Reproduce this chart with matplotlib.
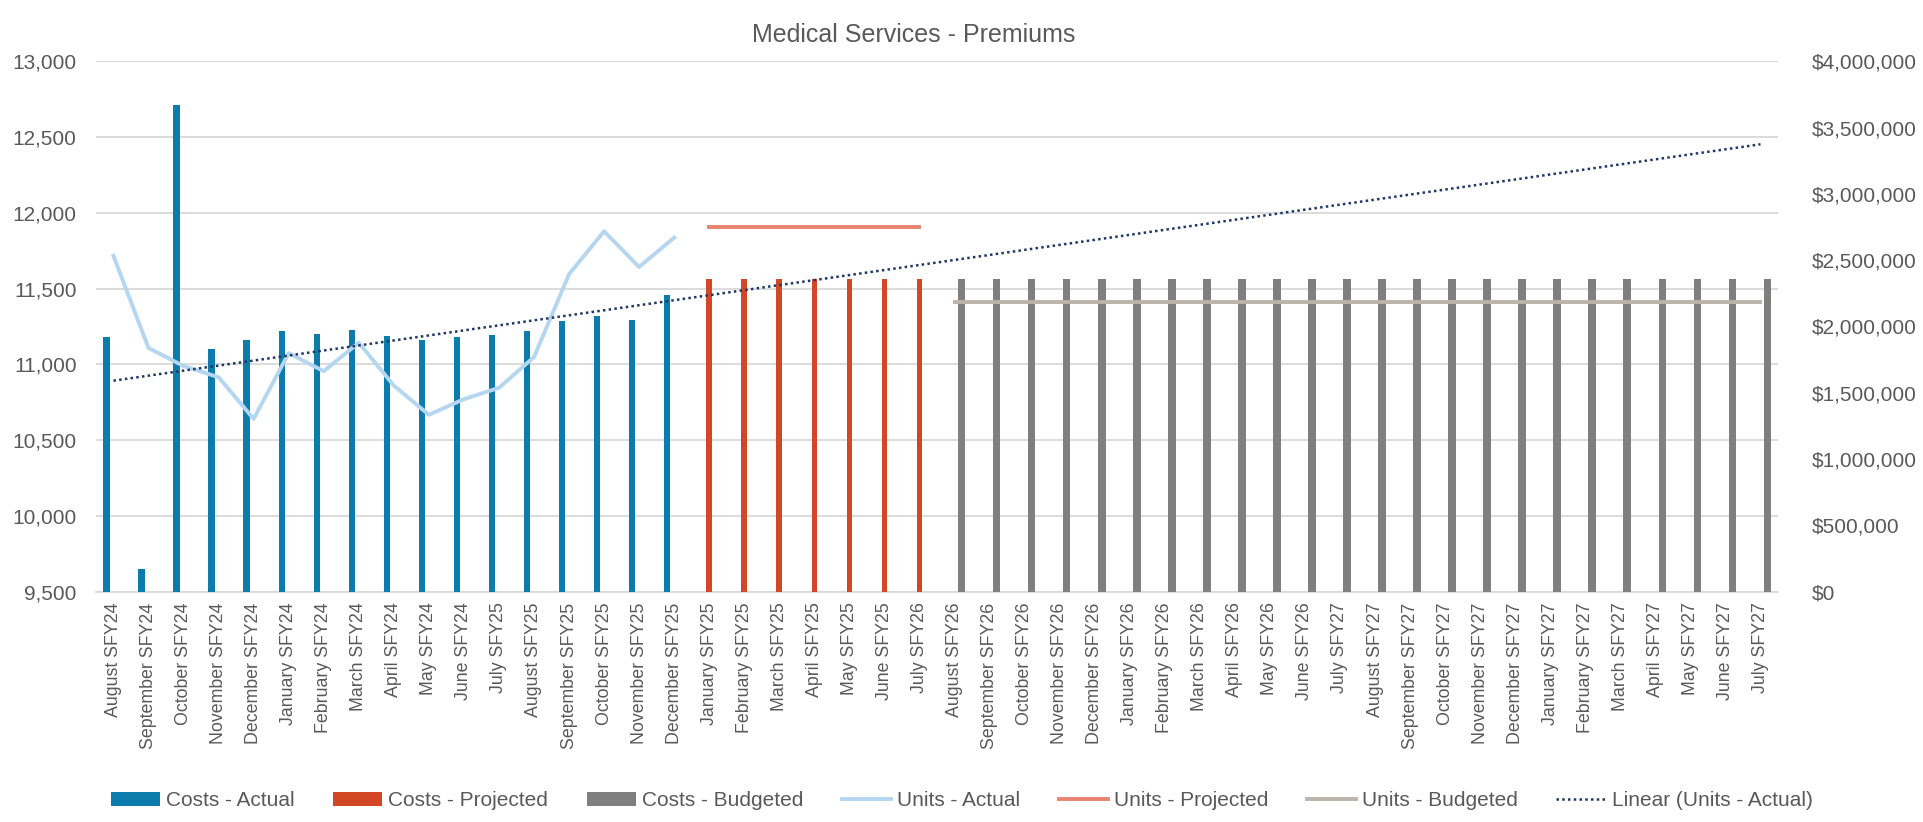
import matplotlib
matplotlib.use('Agg')
import matplotlib.pyplot as plt
from matplotlib.ticker import FuncFormatter, MultipleLocator
import numpy as np

plt.rcParams['font.family'] = ['Liberation Sans', 'DejaVu Sans']

# month labels (as printed on the chart)
months = ['August SFY24', 'September SFY24', 'October SFY24', 'November SFY24', 'December SFY24',
          'January SFY24', 'February SFY24', 'March SFY24', 'April SFY24', 'May SFY24', 'June SFY24',
          'July SFY25', 'August SFY25', 'September SFY25', 'October SFY25', 'November SFY25',
          'December SFY25', 'January SFY25', 'February SFY25', 'March SFY25', 'April SFY25',
          'May SFY25', 'June SFY25', 'July SFY26', 'August SFY26', 'September SFY26',
          'October SFY26', 'November SFY26', 'December SFY26', 'January SFY26', 'February SFY26',
          'March SFY26', 'April SFY26', 'May SFY26', 'June SFY26', 'July SFY27', 'August SFY27',
          'September SFY27', 'October SFY27', 'November SFY27', 'December SFY27', 'January SFY27',
          'February SFY27', 'March SFY27', 'April SFY27', 'May SFY27', 'June SFY27', 'July SFY27']

# costs ($, right axis)
costs_actual = [1917000, 170000, 3672000, 1832000, 1897000, 1965000, 1945000, 1977000, 1932000,
                1897000, 1917000, 1935000, 1965000, 2043000, 2081000, 2048000, 2237000]
costs_projected = [2360000, 2360000, 2360000, 2360000, 2360000, 2360000, 2360000]
costs_budgeted = [2360000, 2360000, 2360000, 2360000, 2360000, 2360000, 2360000, 2360000,
                  2360000, 2360000, 2360000, 2360000, 2360000, 2360000, 2360000, 2360000,
                  2360000, 2360000, 2360000, 2360000, 2360000, 2360000, 2360000, 2360000]

# units (left axis)
units_actual = [11716, 11108, 10989, 10915, 10640, 11074, 10955, 11143, 10860, 10667, 10770,
                10845, 11048, 11595, 11879, 11643, 11837]
units_projected = [11910, 11910, 11910, 11910, 11910, 11910, 11910]
units_budgeted = [11410, 11410, 11410, 11410, 11410, 11410, 11410, 11410, 11410, 11410, 11410, 11410,
                  11410, 11410, 11410, 11410, 11410, 11410, 11410, 11410, 11410, 11410, 11410, 11410]

x = np.arange(len(months))
n_act = len(costs_actual)
n_proj = len(costs_projected)
x_act = x[:n_act]
x_proj = x[n_act:n_act + n_proj]
x_bud = x[n_act + n_proj:]

grey = '#595959'
off = 0.2  # cluster slot offset

fig = plt.figure(figsize=(19.23, 8.22), dpi=100)
ax = fig.add_axes([0.0499, 0.2804, 0.8747, 0.6448])
ax.set_xlim(-0.5, len(months) - 0.5)
ax.set_ylim(9500, 13000)
ax.yaxis.set_major_locator(MultipleLocator(500))
ax.yaxis.set_major_formatter(FuncFormatter(lambda v, p: f'{v:,.0f}'))
ax.grid(axis='y', color='#D9D9D9', linewidth=1.3)
ax.set_axisbelow(True)
for s in ['top', 'left', 'right']:
    ax.spines[s].set_visible(False)
ax.spines['bottom'].set_color('#D9D9D9')
ax.spines['bottom'].set_linewidth(1.3)
ax.set_xticks(x)
ax.set_xticklabels(months, rotation=90, va='top', ha='center')
ax.tick_params(axis='x', length=0, pad=8, labelsize=12.8, labelcolor=grey)
ax.tick_params(axis='y', length=0, pad=14, labelsize=15, labelcolor=grey)

# costs on the secondary axis
axc = ax.twinx()
axc.set_ylim(0, 4000000)
axc.yaxis.set_major_locator(MultipleLocator(500000))
axc.yaxis.set_major_formatter(FuncFormatter(lambda v, p: f'${v:,.0f}'))
axc.tick_params(axis='y', length=0, pad=24, labelsize=15, labelcolor=grey)
for s in axc.spines.values():
    s.set_visible(False)
b1 = axc.bar(x_act - off, costs_actual, width=0.18, color='#0B7CAB', label='Costs - Actual')
b2 = axc.bar(x_proj, costs_projected, width=0.16, color='#D24726', label='Costs - Projected')
b3 = axc.bar(x_bud + off, costs_budgeted, width=0.22, color='#7F7F7F', label='Costs - Budgeted')

# unit lines drawn on top of the bars
axl = ax.twinx()
axl.set_ylim(9500, 13000)
axl.axis('off')
l1, = axl.plot(x_act, units_actual, color='#B4D6F0', lw=2.8, label='Units - Actual')
l2, = axl.plot(x_proj, units_projected, color='#E88370', lw=2.8, label='Units - Projected')
l3, = axl.plot(x_bud, units_budgeted, color='#BCB3AA', lw=2.8, label='Units - Budgeted')
coef = np.polyfit(x_act, units_actual, 1)
l4, = axl.plot(x, np.polyval(coef, x), color='#1F3864', lw=1.8, ls=(0, (1, 1.3)),
               label='Linear (Units - Actual)')

fig.text(0.475, 0.949, 'Medical Services - Premiums', ha='center', va='baseline',
         fontsize=18, color=grey)

handles = [b1, b2, b3, l1, l2, l3, l4]
fig.legend(handles, [h.get_label() for h in handles], loc='center', bbox_to_anchor=(0.5, 0.026),
           ncol=7, frameon=False, fontsize=15, handlelength=2.35, handletextpad=0.3,
           columnspacing=1.85, labelcolor=grey)

plt.savefig('out.png', dpi=100)
